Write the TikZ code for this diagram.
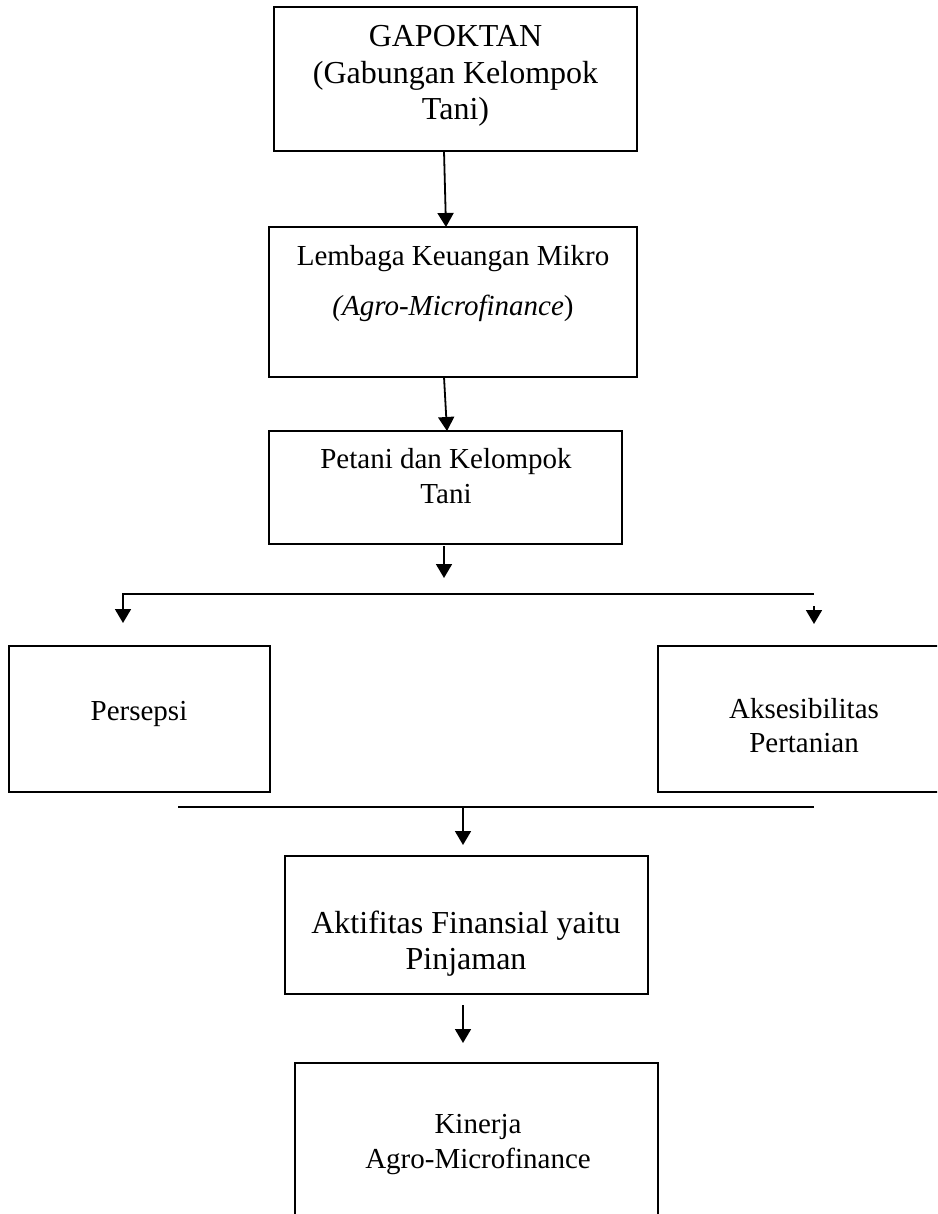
\documentclass[tikz,border=0pt]{standalone}
\usepackage{fontspec}
\setmainfont{Liberation Serif}
\usetikzlibrary{arrows.meta,calc}
\begin{document}
\begin{tikzpicture}[x=1pt,y=-1pt,
  box/.style={draw, line width=1.8pt, outer sep=0pt, inner sep=0pt},
  txt/.style={align=center, inner sep=0pt, anchor=base},
  big/.style={font=\fontsize{32}{36.5}\selectfont},
  mid/.style={font=\fontsize{29}{35}\selectfont},
  arr/.style={line width=1.8pt, -{Triangle[width=16pt,length=14pt]}},
  ln/.style={line width=1.8pt}]
\useasboundingbox (0,0) rectangle (937,1214);
\clip (0,0) rectangle (937,1214);
% boxes
\node[box, minimum width=363pt, minimum height=144pt] (b1) at (455.5,79) {};
\node[box, minimum width=368pt, minimum height=150pt] (b2) at (453,302) {};
\node[box, minimum width=353pt, minimum height=113pt] (b3) at (445.5,487.5) {};
\node[box, minimum width=261pt, minimum height=146pt] (b4) at (139.5,719) {};
\node[box, minimum width=292pt, minimum height=146pt] (b5) at (804,719) {};
\node[box, minimum width=363pt, minimum height=138pt] (b6) at (466.5,925) {};
\node[box, minimum width=363pt, minimum height=197pt] (b7) at (476.5,1161.5) {};
% texts (anchor base = baseline of the last line)
\node[txt, big] (t1) at (455.5,120) {GAPOKTAN\\(Gabungan Kelompok\\Tani)};
\node[txt, font=\fontsize{29}{50}\selectfont] (t2) at (453,315) {Lembaga Keuangan Mikro\\\textit{(Agro-Microfinance})};
\node[txt, mid] (t3) at (446,503) {Petani dan Kelompok\\Tani};
\node[txt, mid] (t4) at (139,720) {Persepsi};
\node[txt, font=\fontsize{29}{34}\selectfont] (t5) at (804,752) {Aksesibilitas\\Pertanian};
\node[txt, font=\fontsize{32}{36}\selectfont] (t6) at (466,969) {Aktifitas Finansial yaitu\\Pinjaman};
\node[txt, mid] (t7) at (478,1168) {Kinerja\\Agro-Microfinance};
% connector points
\coordinate (p3) at (444,578);
\coordinate (busL) at (123,594);
\coordinate (busR) at (814,594);
\coordinate (pL) at (123,623);
\coordinate (rS) at (814,606);
\coordinate (pR) at (814,624);
\coordinate (botL) at (178,807);
\coordinate (botR) at (814,807);
\coordinate (botM) at (463,807);
\coordinate (p6) at (463,845);
\coordinate (q6) at (463,1005);
\coordinate (p7) at (463,1043);
% connectors
\draw[arr] ([xshift=-11.5pt]b1.south) -- ([xshift=-7pt]b2.north);
\draw[arr] ([xshift=-9pt]b2.south) -- ([xshift=1.5pt]b3.north);
\draw[arr] ([xshift=-1.5pt,yshift=-2pt]b3.south) -- (p3);
\draw[arr] (busR) -- (busL) -- (pL);
\draw[arr] (rS) -- (pR);
\draw[ln] (botL) -- (botR);
\draw[arr] (botM) -- (p6);
\draw[arr] (q6) -- (p7);
\end{tikzpicture}
\end{document}
